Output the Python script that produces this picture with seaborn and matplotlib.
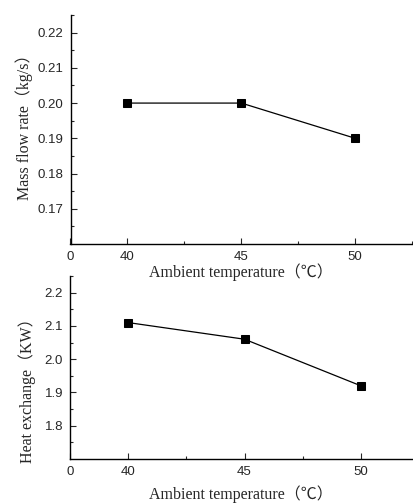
import matplotlib
matplotlib.use("Agg")
import matplotlib.pyplot as plt
import seaborn as sns
import pandas as pd

# data
temperature = [40, 45, 50]
mass_flow = [0.20, 0.20, 0.19]
heat_exchange = [2.11, 2.06, 1.92]

x_ticks = [37.5, 40, 45, 50]
x_tick_labels = ["0", "40", "45", "50"]
x_minor = [42.5, 47.5, 52.5]

top_yticks = [0.17, 0.18, 0.19, 0.20, 0.21, 0.22]
bottom_yticks = [1.8, 1.9, 2.0, 2.1, 2.2]

xlabel = "Ambient temperature（℃）"
top_ylabel = "Mass flow rate（kg/s）"
bottom_ylabel = "Heat exchange（KW）"

sns.set_style("ticks")
plt.rcParams["font.family"] = ["Liberation Sans", "DejaVu Sans"]
plt.rcParams["xtick.direction"] = "in"
plt.rcParams["ytick.direction"] = "in"

label_font = ["Liberation Serif", "Noto Sans CJK SC"]

df = pd.DataFrame({"temp": temperature, "flow": mass_flow, "heat": heat_exchange})

fig = plt.figure(figsize=(4.13, 5.04), dpi=100)
ax1 = fig.add_axes([70.5 / 413, 1 - 244 / 504, 341.7 / 413, 229 / 504])
ax2 = fig.add_axes([70 / 413, 1 - 459 / 504, 349 / 413, 183 / 504])
# the lower axes must not hide the upper x label
ax2.patch.set_alpha(0)


def style_axis(ax, yticks, ylim, ylabel, xlab_pos, ylab_pos):
    ax.set_xlim(37.5, 52.5)
    ax.set_ylim(*ylim)
    ax.set_xticks(x_ticks)
    ax.set_xticklabels(x_tick_labels)
    ax.set_xticks(x_minor, minor=True)
    ax.set_yticks(yticks)
    step = yticks[1] - yticks[0]
    ax.set_yticks([ylim[0] + step / 2 + i * step for i in range(len(yticks) + 1)], minor=True)
    ax.tick_params(which="major", length=4, width=0.8, labelsize=9.5)
    ax.tick_params(axis="x", which="major", pad=5)
    ax.tick_params(axis="y", which="major", pad=5)
    ax.tick_params(which="minor", length=2.5, width=0.8)
    for s in ["top", "right"]:
        ax.spines[s].set_visible(False)
    for s in ["left", "bottom"]:
        ax.spines[s].set_linewidth(1.0)
        ax.spines[s].set_color("black")
    ax.set_xlabel(xlabel, family=label_font, fontsize=11.5)
    ax.set_ylabel(ylabel, family=label_font, fontsize=11.5)
    ax.xaxis.set_label_coords(*xlab_pos)
    ax.yaxis.set_label_coords(*ylab_pos)


sns.lineplot(data=df, x="temp", y="flow", ax=ax1, color="black", linewidth=0.9,
             marker="s", markersize=5.3, markeredgecolor="black")
style_axis(ax1, top_yticks, (0.16, 0.22), top_ylabel, (0.5, -0.083), (-0.109, 0.528))
ax1.set_yticklabels([f"{v:.2f}" for v in top_yticks])

sns.lineplot(data=df, x="temp", y="heat", ax=ax2, color="black", linewidth=0.9,
             marker="s", markersize=5.3, markeredgecolor="black")
style_axis(ax2, bottom_yticks, (1.7, 2.2), bottom_ylabel, (0.49, -0.143), (-0.097, 0.393))
ax2.set_yticklabels([f"{v:.1f}" for v in bottom_yticks])

fig.savefig("out.png", dpi=100)
